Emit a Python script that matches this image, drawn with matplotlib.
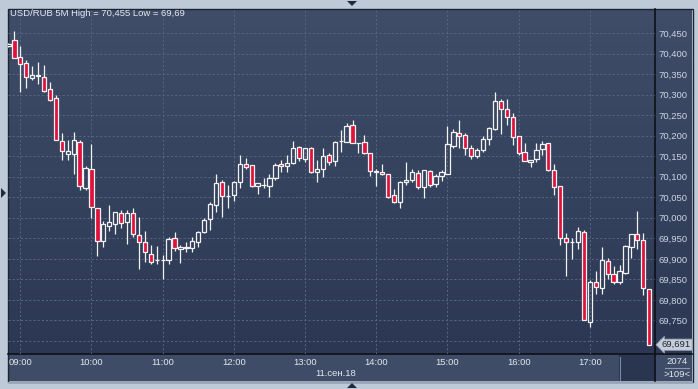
import numpy as np
import pandas as pd
import matplotlib
matplotlib.use("Agg")
import matplotlib.pyplot as plt
from matplotlib.colors import LinearSegmentedColormap
from matplotlib.patches import Rectangle, Polygon

# ---------------- data ----------------
times = pd.date_range("2018-09-11 08:50", periods=109, freq="5min")

open_ = [70.418, 70.433, 70.392, 70.377, 70.341, 70.345, 70.343, 70.314, 70.292, 70.187,
         70.156, 70.156, 70.184, 70.072, 70.120, 70.025, 69.943, 69.981, 69.986, 70.012,
         69.989, 70.011, 69.957, 69.940, 69.913, 69.897, 69.897, 69.897, 69.951, 69.923,
         69.927, 69.926, 69.940, 69.965, 69.996, 70.031, 70.086, 70.053, 70.055, 70.086,
         70.130, 70.128, 70.077, 70.080, 70.078, 70.096, 70.130, 70.125, 70.134, 70.172,
         70.142, 70.169, 70.112, 70.118, 70.153, 70.139, 70.186, 70.185, 70.226, 70.183,
         70.184, 70.159, 70.112, 70.111, 70.106, 70.055, 70.038, 70.086, 70.092, 70.108,
         70.076, 70.113, 70.082, 70.103, 70.107, 70.176, 70.206, 70.202, 70.170, 70.150,
         70.166, 70.191, 70.216, 70.284, 70.265, 70.245, 70.198, 70.161, 70.137, 70.142,
         70.167, 70.181, 70.116, 70.077, 69.950, 69.940, 69.940, 69.965, 69.747, 69.843,
         69.830, 69.895, 69.862, 69.844, 69.866, 69.928, 69.960, 69.946, 69.826]
high = [70.425, 70.455, 70.418, 70.384, 70.370, 70.380, 70.372, 70.330, 70.299, 70.206,
        70.189, 70.210, 70.189, 70.126, 70.180, 70.025, 69.992, 70.031, 70.014, 70.019,
        70.019, 70.024, 70.001, 69.969, 69.934, 69.931, 69.909, 69.954, 69.966, 69.934,
        69.942, 69.953, 69.969, 69.999, 70.039, 70.106, 70.092, 70.080, 70.090, 70.153,
        70.145, 70.128, 70.085, 70.096, 70.107, 70.134, 70.141, 70.153, 70.187, 70.174,
        70.171, 70.172, 70.141, 70.171, 70.159, 70.187, 70.214, 70.230, 70.238, 70.183,
        70.202, 70.159, 70.118, 70.131, 70.106, 70.069, 70.090, 70.135, 70.120, 70.116,
        70.117, 70.116, 70.107, 70.116, 70.224, 70.216, 70.238, 70.207, 70.177, 70.169,
        70.200, 70.222, 70.306, 70.289, 70.289, 70.254, 70.198, 70.181, 70.141, 70.181,
        70.187, 70.183, 70.131, 70.077, 69.962, 69.952, 69.977, 69.970, 69.848, 69.870,
        69.930, 69.901, 69.883, 69.885, 69.935, 69.960, 70.017, 69.962, 69.826]
low = [70.415, 70.388, 70.307, 70.317, 70.335, 70.327, 70.307, 70.285, 70.189, 70.141,
       70.141, 70.107, 70.068, 70.068, 70.000, 69.908, 69.929, 69.968, 69.960, 69.976,
       69.937, 69.954, 69.876, 69.893, 69.887, 69.887, 69.852, 69.887, 69.918, 69.891,
       69.916, 69.916, 69.930, 69.962, 69.970, 70.013, 70.003, 70.024, 70.040, 70.072,
       70.120, 70.075, 70.057, 70.072, 70.051, 70.091, 70.112, 70.112, 70.132, 70.139,
       70.137, 70.110, 70.088, 70.100, 70.128, 70.127, 70.161, 70.185, 70.181, 70.157,
       70.155, 70.102, 70.077, 70.105, 70.049, 70.037, 70.025, 70.081, 70.088, 70.071,
       70.049, 70.074, 70.076, 70.089, 70.107, 70.169, 70.169, 70.153, 70.143, 70.145,
       70.161, 70.177, 70.213, 70.204, 70.226, 70.177, 70.153, 70.138, 70.124, 70.137,
       70.153, 70.115, 70.056, 69.935, 69.859, 69.900, 69.925, 69.750, 69.735, 69.814,
       69.814, 69.850, 69.840, 69.840, 69.862, 69.903, 69.923, 69.811, 69.690]
close = [70.422, 70.390, 70.374, 70.344, 70.348, 70.347, 70.309, 70.288, 70.190, 70.163,
         70.163, 70.189, 70.078, 70.121, 70.027, 69.944, 69.985, 69.989, 70.013, 69.987,
         70.011, 69.960, 69.940, 69.916, 69.893, 69.898, 69.898, 69.948, 69.926, 69.929,
         69.928, 69.943, 69.966, 69.994, 70.033, 70.084, 70.053, 70.054, 70.088, 70.130,
         70.124, 70.077, 70.085, 70.081, 70.097, 70.129, 70.125, 70.134, 70.169, 70.145,
         70.169, 70.112, 70.118, 70.151, 70.137, 70.184, 70.187, 70.224, 70.181, 70.181,
         70.159, 70.115, 70.113, 70.106, 70.051, 70.039, 70.086, 70.091, 70.111, 70.074,
         70.116, 70.080, 70.103, 70.111, 70.179, 70.208, 70.198, 70.169, 70.150, 70.164,
         70.192, 70.218, 70.284, 70.265, 70.246, 70.197, 70.159, 70.138, 70.141, 70.164,
         70.180, 70.116, 70.074, 69.952, 69.940, 69.941, 69.968, 69.750, 69.843, 69.831,
         69.897, 69.862, 69.844, 69.870, 69.931, 69.960, 69.946, 69.828, 69.691]

y_ticks = [69.70, 69.75, 69.80, 69.85, 69.90, 69.95, 70.00, 70.05, 70.10,
           70.15, 70.20, 70.25, 70.30, 70.35, 70.40, 70.45]
symbol = "USD/RUB 5M"
date_label = "11.сен.18"
volume_label = "2074"

# ---------------- style ----------------
plt.rcParams['font.family'] = ['Liberation Sans', 'DejaVu Sans']
W, H = 698, 389
FS = 6.8
FRAME = '#bfcad9'
TXT = '#cdd5e1'
TXT2 = '#e2e7ee'
UP_EDGE = '#f2f2f2'
DOWN_FILL = '#e0123c'

fig = plt.figure(figsize=(W / 100, H / 100), dpi=100)
fig.patch.set_facecolor(FRAME)

# background panels (pixel coordinates)
bg = fig.add_axes([0, 0, 1, 1], zorder=-5)
bg.axis('off')
grad = LinearSegmentedColormap.from_list('g', ['#3f4d69', '#2c3853'])
bg.imshow(np.linspace(0, 1, 256).reshape(-1, 1), cmap=grad, aspect='auto',
          extent=(8, 692, 354, 9), origin='upper')
bg.add_patch(Rectangle((8, 354), 684, 27, fc='#3e4c67', ec='none'))
bg.add_patch(Rectangle((619, 355), 36, 26, fc='#2a3550', ec='none'))
bg.plot([619.5, 619.5], [357, 380], color='#7d8ba2', lw=0.8)
bg.plot([8, 692], [354, 354], color='#0d1018', lw=1.2)
bg.plot([655, 655], [9, 381], color='#0d1018', lw=1.2)
bg.add_patch(Rectangle((7.5, 8.5), 685, 373, fc='none', ec='#1c2332', lw=1))
bg.plot([8, 692], [381.5, 381.5], color='#95a3b8', lw=0.8)
for pts in ([(347, 1), (357, 1), (352, 6)],
            [(347, 388), (357, 388), (352, 383)],
            [(1, 188), (1, 198), (6, 193)]):
    bg.add_patch(Polygon(pts, closed=True, fc='#1f2a3d', ec='none'))
bg.plot([665, 689], [367.5, 367.5], color='#8c9ab0', lw=0.8)
bg.set_xlim(0, W)
bg.set_ylim(H, 0)

# main chart axes
ax = fig.add_axes([8 / W, 35 / H, 647 / W, 345 / H])
ax.patch.set_alpha(0)
for s in ax.spines.values():
    s.set_visible(False)

x = np.arange(len(times))
o = np.array(open_); c = np.array(close); h = np.array(high); l = np.array(low)
top = np.maximum(o, c); bot = np.minimum(o, c)
up = c >= o

ax.vlines(x, top, h, color=UP_EDGE, lw=0.9, zorder=3)
ax.vlines(x, l, bot, color=UP_EDGE, lw=0.9, zorder=3)
ax.bar(x[up], (top - bot)[up], bottom=bot[up], width=0.72, color='none',
       edgecolor=UP_EDGE, linewidth=0.9, zorder=4)
ax.bar(x[~up], (top - bot)[~up], bottom=bot[~up], width=0.72, color=DOWN_FILL,
       edgecolor=UP_EDGE, linewidth=0.9, zorder=4)

ax.set_xlim(-0.073, 108.98)
ax.set_ylim(69.6684, 70.5084)

hour_pos = [i for i, t in enumerate(times) if t.minute == 0]
ax.set_xticks(hour_pos)
ax.set_xticklabels([times[i].strftime('%H:%M') for i in hour_pos])
ax.set_yticks(y_ticks)
ax.set_yticklabels([f"{v:.3f}".replace('.', ',') for v in y_ticks])
ax.yaxis.tick_right()
ax.tick_params(axis='both', length=0, labelsize=FS)
ax.tick_params(axis='x', pad=3, labelcolor=TXT2)
ax.tick_params(axis='y', pad=2.5, labelcolor=TXT)
ax.grid(True, color='#55647e', linestyle=(0, (2, 2)), linewidth=0.75, zorder=0)
ax.set_axisbelow(True)

hi = max(high); lo = min(low)
title = f"{symbol} High = {hi:g} Low = {lo:g}".replace('.', ',')
fig.text(10 / W, 1 - 14 / H, title, ha='left', va='center', fontsize=FS, color='#e6eaf0')

ax.annotate(f"{close[-1]:.3f}".replace('.', ','), xy=(1.0, close[-1]),
            xycoords=('axes fraction', 'data'), xytext=(5, 0), textcoords='offset points',
            ha='left', va='center', fontsize=FS, color='#1e2636', annotation_clip=False,
            bbox=dict(boxstyle='larrow,pad=0.12', fc='#c8ced8', ec='#8f9bb0', lw=0.6),
            zorder=10)

fig.text(336 / W, 1 - 373 / H, date_label, ha='center', va='center', fontsize=FS, color=TXT2)
fig.text(677 / W, 1 - 361 / H, volume_label, ha='center', va='center', fontsize=FS, color=TXT2)
fig.text(677 / W, 1 - 374.5 / H, f">{len(times)}<", ha='center', va='center', fontsize=FS, color=TXT2)

fig.savefig('out.png', dpi=100, facecolor=fig.get_facecolor())
